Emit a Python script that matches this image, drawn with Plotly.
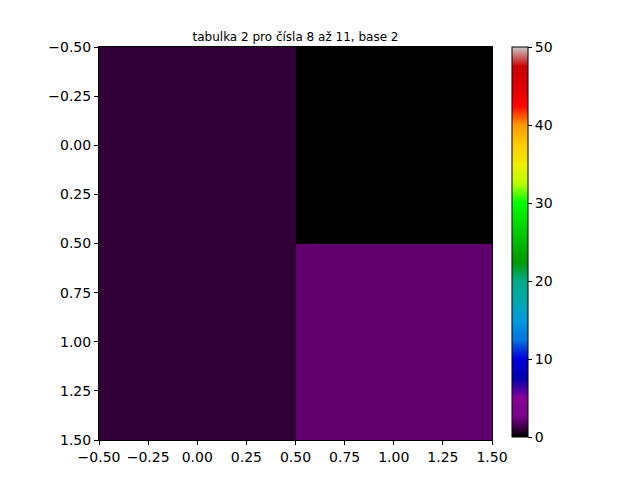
import plotly.graph_objects as go

# data
x_vals = [0, 1]
y_vals = [0, 1]
z_vals = [[1, 0],
          [1, 2]]
title_text = "tabulka 2 pro čísla 8 až 11, base 2"
axis_ticks = [-0.5, -0.25, 0.0, 0.25, 0.5, 0.75, 1.0, 1.25, 1.5]
cbar_ticks = [0, 10, 20, 30, 40, 50]

nipy = [
    (0.00, (0.0, 0.0, 0.0)), (0.05, (0.4667, 0.0, 0.5333)), (0.10, (0.5333, 0.0, 0.6)),
    (0.15, (0.0, 0.0, 0.6667)), (0.20, (0.0, 0.0, 0.8667)), (0.25, (0.0, 0.4667, 0.8667)),
    (0.30, (0.0, 0.6, 0.8667)), (0.35, (0.0, 0.6667, 0.6667)), (0.40, (0.0, 0.6667, 0.5333)),
    (0.45, (0.0, 0.6, 0.0)), (0.50, (0.0, 0.7333, 0.0)), (0.55, (0.0, 0.8667, 0.0)),
    (0.60, (0.0, 1.0, 0.0)), (0.65, (0.7333, 1.0, 0.0)), (0.70, (0.9333, 0.9333, 0.0)),
    (0.75, (1.0, 0.8, 0.0)), (0.80, (1.0, 0.6, 0.0)), (0.85, (1.0, 0.0, 0.0)),
    (0.90, (0.8667, 0.0, 0.0)), (0.95, (0.8, 0.0, 0.0)), (1.00, (0.8, 0.8, 0.8)),
]
colorscale = [[s, "rgb(%d,%d,%d)" % tuple(round(c * 255) for c in rgb)] for s, rgb in nipy]

font = dict(family="DejaVu Sans", size=14, color="black")

# page body has an 8px offset, compensate in margins
L, T = 91, 39
W = 393

fig = go.Figure(go.Heatmap(
    x=x_vals, y=y_vals, z=z_vals,
    colorscale=colorscale, zmin=0, zmax=50,
    colorbar=dict(
        x=(512 - 99) / W, xanchor="left", xpad=0,
        y=1, yanchor="top", ypad=0,
        thickness=16, thicknessmode="pixels",
        len=390, lenmode="pixels",
        tickvals=cbar_ticks, ticks="outside", ticklen=4, tickcolor="black",
        outlinecolor="black", outlinewidth=1,
        tickfont=font,
    ),
))

fig.update_layout(
    width=640, height=480,
    margin=dict(l=L, r=640 - L - W, t=T, b=480 - T - W),
    paper_bgcolor="white", plot_bgcolor="white",
    font=font,
    title=dict(text=title_text, x=(L + L + W) / 2 / 640, xanchor="center",
               y=1 - 29 / 480, yanchor="middle",
               font=dict(family="DejaVu Sans", size=12, color="black")),
)
fig.update_xaxes(range=[-0.5, 1.5], tickvals=axis_ticks, tickformat=".2f",
                 ticks="outside", ticklen=4, tickcolor="black",
                 showline=True, linecolor="black", linewidth=1, mirror=True,
                 showgrid=False, zeroline=False, tickfont=font)
fig.update_yaxes(range=[1.5, -0.5], tickvals=axis_ticks, tickformat=".2f",
                 ticks="outside", ticklen=4, tickcolor="black",
                 showline=True, linecolor="black", linewidth=1, mirror=True,
                 showgrid=False, zeroline=False, tickfont=font)

fig.write_html("out.html")
